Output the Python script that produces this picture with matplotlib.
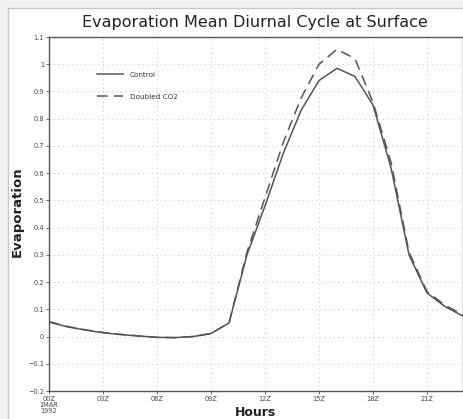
import matplotlib
matplotlib.use("Agg")
import matplotlib.pyplot as plt
from matplotlib.patches import Rectangle

hours = list(range(24))
control = [0.053, 0.036, 0.024, 0.014, 0.007, 0.002, -0.003, -0.004, 0.0, 0.011, 0.05,
           0.30, 0.48, 0.67, 0.83, 0.94, 0.985, 0.955, 0.85, 0.62, 0.30, 0.16, 0.11, 0.075]
doubled = [0.055, 0.037, 0.025, 0.015, 0.008, 0.002, -0.003, -0.004, 0.0, 0.011, 0.05,
           0.31, 0.51, 0.71, 0.875, 1.0, 1.055, 1.02, 0.86, 0.64, 0.31, 0.165, 0.115, 0.08]
xtick_pos = [0, 3, 6, 9, 12, 15, 18, 21]
xtick_labels = ["00Z\n1MAR\n1992", "03Z", "06Z", "09Z", "12Z", "15Z", "18Z", "21Z"]
ytick_pos = [-0.2, -0.1, 0, 0.1, 0.2, 0.3, 0.4, 0.5, 0.6, 0.7, 0.8, 0.9, 1, 1.1]
ytick_labels = ["\u22120.2", "\u22120.1", "0", "0.1", "0.2", "0.3", "0.4", "0.5", "0.6",
                "0.7", "0.8", "0.9", "1", "1.1"]

W, H = 464, 419
fig = plt.figure(figsize=(W / 100, H / 100), dpi=100)
fig.patch.set_facecolor("#eef0f2")
fig.patches.append(Rectangle((8 / W, -0.01), 1.0, 1 - 8 / H + 0.01, transform=fig.transFigure,
                             facecolor="white", edgecolor="#c8c8c8", linewidth=1.0, zorder=-5))

ax = fig.add_axes([49 / W, 1 - 391 / H, 414 / W, (391 - 37) / H])
ax.set_zorder(2)
ax.set_facecolor("white")
ax.plot(hours, control, color="#555555", lw=1.1, label="Control")
ax.plot(hours, doubled, color="#555555", lw=1.1, linestyle=(0, (7, 4)), label="Doubled CO2")
ax.set_xlim(0, 23)
ax.set_ylim(-0.2, 1.1)
ax.set_xticks(xtick_pos)
ax.set_xticklabels(xtick_labels, fontsize=4.8, color="#444444", linespacing=1.0)
ax.set_yticks(ytick_pos)
ax.set_yticklabels(ytick_labels, fontsize=4.8, color="#444444")
ax.tick_params(axis="both", length=2.5, width=0.6, color="#555555", pad=1)
ax.grid(True, color="#cccccc", linestyle=(0, (1, 3)), linewidth=0.8)
for s in ax.spines.values():
    s.set_color("#555555")
    s.set_linewidth(1.0)

leg = ax.legend(loc="upper left", bbox_to_anchor=(0.1, 0.92), frameon=False, fontsize=5.2,
                handlelength=3.6, labelspacing=2.2, handletextpad=1.0, labelcolor="#333333")

fig.text(255 / W, 1 - 22 / H, "Evaporation Mean Diurnal Cycle at Surface", ha="center", va="center",
         fontsize=11.5, color="#222222", family="DejaVu Sans", zorder=3)
fig.text(256 / W, 1 - 412 / H, "Hours", ha="center", va="center", fontsize=9,
         fontweight="bold", color="#222222", zorder=3)
fig.text(17 / W, 1 - 212 / H, "Evaporation", ha="center", va="center", rotation=90, fontsize=9.5,
         fontweight="bold", color="#222222", zorder=3)

fig.savefig("out.png", dpi=100, facecolor=fig.get_facecolor())
